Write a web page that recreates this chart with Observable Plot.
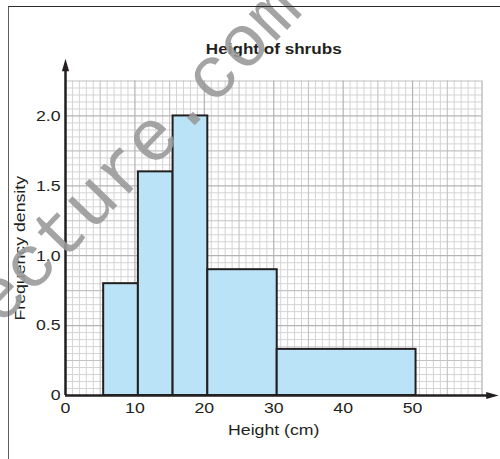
<!DOCTYPE html>
<html>
<head>
<meta charset="utf-8">
<script src="https://cdn.jsdelivr.net/npm/d3@7"></script>
<script src="https://cdn.jsdelivr.net/npm/@observablehq/plot@0.6"></script>
<style>
  html, body { margin: 0; padding: 0; background: #fff; }
  #wrap { position: relative; width: 500px; height: 459px; overflow: hidden; }
  #wrap svg { display: block; }
  #frame { position: absolute; left: 8px; top: 6px; right: -10px; bottom: -10px;
           border-top: 1.5px solid #2b2b2b; border-left: 1.5px solid #5e5e5e; pointer-events: none; }
</style>
</head>
<body>
<div id="wrap"><div id="frame"></div></div>
<script>
// ---- data ----
const title = "Height of shrubs";
const xLabel = "Height (cm)";
const yLabel = "Frequency density";
const classStart = [5.5, 10.5, 15.5, 20.5, 30.5];
const classEnd   = [10.5, 15.5, 20.5, 30.5, 50.5];
const density    = [0.8, 1.6, 2.0, 0.9, 0.33];
const xTicks = [0, 10, 20, 30, 40, 50];
const yTicks = [0, 0.5, 1.0, 1.5, 2.0];
const yTickLabels = ["0", "0.5", "1.0", "1.5", "2.0"];
const xMax = 60, yMax = 2.25;          // extent of the graph paper
const xArrowTip = 62.4, yArrowTip = 2.41;
const watermark = "ecture.com";

// ---- derived tables ----
const bars = classStart.map((s, i) => ({x1: s, x2: classEnd[i], y: density[i]}));
const gx = d3.range(0, xMax + 1);
const gy = d3.range(0, Math.round(yMax / 0.05) + 1).map(i => +(i * 0.05).toFixed(2));
const gxMinor = gx.filter(v => v % 5 !== 0);
const gxMid = gx.filter(v => v % 5 === 0 && v % 10 !== 0);
const gxMajor = gx.filter(v => v % 10 === 0);
const isMult = (v, m) => Math.abs(v / m - Math.round(v / m)) < 1e-6;
const gyMinor = gy.filter(v => !isMult(v, 0.25));
const gyMid = gy.filter(v => isMult(v, 0.25) && !isMult(v, 0.5));
const gyMajor = gy.filter(v => isMult(v, 0.5));

const ink = "#231f20";
const arrowHead = {
  draw(ctx) { ctx.moveTo(0, 0); ctx.lineTo(-3.6, 12.5); ctx.lineTo(3.6, 12.5); ctx.closePath(); }
};

const chart = Plot.plot({
  width: 500,
  height: 459,
  marginLeft: 65,
  marginRight: 18.5,
  marginTop: 80.5,
  marginBottom: 64,
  style: { fontFamily: "'Liberation Sans', Arial, Helvetica, sans-serif", fontSize: "15px", color: ink, background: "transparent" },
  x: { domain: [0, xMax], ticks: xTicks, tickSize: 0, tickPadding: 7, label: null },
  y: { domain: [0, yMax], ticks: yTicks, tickSize: 0, tickPadding: 5, label: null,
       tickFormat: d => yTickLabels[yTicks.findIndex(t => Math.abs(t - d) < 1e-9)] },
  marks: [
    Plot.ruleX(gxMinor, {y1: 0, y2: yMax, stroke: "#d4d4d4", strokeWidth: 1}),
    Plot.ruleY(gyMinor, {x1: 0, x2: xMax, stroke: "#d4d4d4", strokeWidth: 1}),
    Plot.ruleX(gxMid, {y1: 0, y2: yMax, stroke: "#c2c2c2", strokeWidth: 1.1}),
    Plot.ruleY(gyMid, {x1: 0, x2: xMax, stroke: "#c2c2c2", strokeWidth: 1.1}),
    Plot.ruleX(gxMajor, {y1: 0, y2: yMax, stroke: "#b3b3b3", strokeWidth: 1.2}),
    Plot.ruleY(gyMajor, {x1: 0, x2: xMax, stroke: "#b3b3b3", strokeWidth: 1.2}),
    Plot.rectY(bars, {x1: "x1", x2: "x2", y: "y", fill: "#bbe3f7", stroke: ink, strokeWidth: 2}),
    Plot.ruleX([0], {y1: 0, y2: yArrowTip - 0.06, stroke: ink, strokeWidth: 2.5}),
    Plot.ruleY([0], {x1: 0, x2: xArrowTip - 1.2, stroke: ink, strokeWidth: 2.5}),
    Plot.dot([{x: 0, y: yArrowTip}], {x: "x", y: "y", symbol: arrowHead, r: 4, fill: ink, stroke: null}),
    Plot.dot([{x: xArrowTip, y: 0}], {x: "x", y: "y", symbol: arrowHead, r: 4, fill: ink, stroke: null, rotate: 90}),
    Plot.text([title], {text: d => d, frameAnchor: "top", textAnchor: "middle", lineAnchor: "middle", dy: -32, fontWeight: "bold", fontSize: 14.5, fill: ink}),
    Plot.text([xLabel], {text: d => d, frameAnchor: "bottom", textAnchor: "middle", lineAnchor: "middle", dy: 35, fontSize: 15, fill: ink}),
    Plot.text([yLabel], {text: d => d, frameAnchor: "left", textAnchor: "middle", lineAnchor: "middle", dx: -45, dy: 10, rotate: -90, fontSize: 15, fill: ink})
  ]
});

// widen the lettering to match the reference's wide sans face
d3.select(chart).selectAll("text").each(function () {
  const t = this.getAttribute("transform") || "";
  this.setAttribute("transform", (t + " scale(1.18,1)").trim());
});

// faint watermark lettering from the source image
d3.select(chart).append("text")
  .attr("transform", "translate(0,327) rotate(-46)")
  .attr("text-anchor", "start")
  .attr("font-family", "'Liberation Mono', 'DejaVu Sans Mono', monospace")
  .attr("font-size", 73)
  .attr("fill", "#9a9a9a")
  .attr("fill-opacity", 0.9)
  .text(watermark);

const wrap = document.getElementById("wrap");
wrap.insertBefore(chart, wrap.firstChild);
</script>
</body>
</html>
